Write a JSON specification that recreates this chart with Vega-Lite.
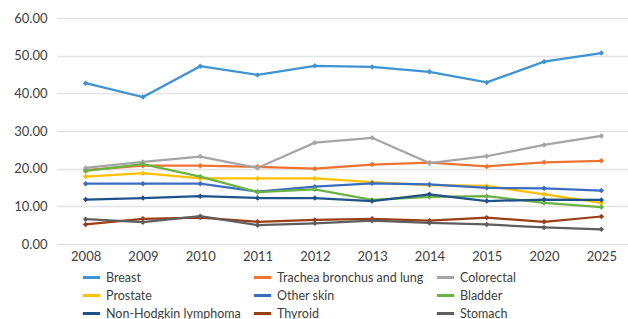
{
  "$schema": "https://vega.github.io/schema/vega-lite/v6.json",
  "autosize": {"type": "none"},
  "padding": {"left": 57, "top": 18, "right": 0, "bottom": 75},
  "width": 573,
  "height": 226,
  "background": "white",
  "config": {
    "font": "Lato",
    "view": {"stroke": null},
    "axis": {"labelColor": "#404040", "labelFontSize": 13, "domain": false, "ticks": false}
  },
  "data": {"values": [
    {"year":"2008","type":"Breast","rate":42.7},{"year":"2009","type":"Breast","rate":39.0},{"year":"2010","type":"Breast","rate":47.2},{"year":"2011","type":"Breast","rate":44.9},{"year":"2012","type":"Breast","rate":47.3},{"year":"2013","type":"Breast","rate":47.0},{"year":"2014","type":"Breast","rate":45.7},{"year":"2015","type":"Breast","rate":42.9},{"year":"2020","type":"Breast","rate":48.4},{"year":"2025","type":"Breast","rate":50.7},
    {"year":"2008","type":"Trachea bronchus and lung","rate":19.6},{"year":"2009","type":"Trachea bronchus and lung","rate":20.8},{"year":"2010","type":"Trachea bronchus and lung","rate":20.8},{"year":"2011","type":"Trachea bronchus and lung","rate":20.5},{"year":"2012","type":"Trachea bronchus and lung","rate":20.0},{"year":"2013","type":"Trachea bronchus and lung","rate":21.1},{"year":"2014","type":"Trachea bronchus and lung","rate":21.6},{"year":"2015","type":"Trachea bronchus and lung","rate":20.6},{"year":"2020","type":"Trachea bronchus and lung","rate":21.7},{"year":"2025","type":"Trachea bronchus and lung","rate":22.1},
    {"year":"2008","type":"Colorectal","rate":20.2},{"year":"2009","type":"Colorectal","rate":21.8},{"year":"2010","type":"Colorectal","rate":23.2},{"year":"2011","type":"Colorectal","rate":20.2},{"year":"2012","type":"Colorectal","rate":26.9},{"year":"2013","type":"Colorectal","rate":28.2},{"year":"2014","type":"Colorectal","rate":21.5},{"year":"2015","type":"Colorectal","rate":23.3},{"year":"2020","type":"Colorectal","rate":26.3},{"year":"2025","type":"Colorectal","rate":28.7},
    {"year":"2008","type":"Prostate","rate":17.9},{"year":"2009","type":"Prostate","rate":18.8},{"year":"2010","type":"Prostate","rate":17.4},{"year":"2011","type":"Prostate","rate":17.4},{"year":"2012","type":"Prostate","rate":17.4},{"year":"2013","type":"Prostate","rate":16.4},{"year":"2014","type":"Prostate","rate":15.6},{"year":"2015","type":"Prostate","rate":15.4},{"year":"2020","type":"Prostate","rate":13.2},{"year":"2025","type":"Prostate","rate":10.9},
    {"year":"2008","type":"Other skin","rate":16.0},{"year":"2009","type":"Other skin","rate":16.0},{"year":"2010","type":"Other skin","rate":16.0},{"year":"2011","type":"Other skin","rate":13.9},{"year":"2012","type":"Other skin","rate":15.2},{"year":"2013","type":"Other skin","rate":16.1},{"year":"2014","type":"Other skin","rate":15.8},{"year":"2015","type":"Other skin","rate":14.9},{"year":"2020","type":"Other skin","rate":14.8},{"year":"2025","type":"Other skin","rate":14.2},
    {"year":"2008","type":"Bladder","rate":19.4},{"year":"2009","type":"Bladder","rate":21.2},{"year":"2010","type":"Bladder","rate":17.9},{"year":"2011","type":"Bladder","rate":13.8},{"year":"2012","type":"Bladder","rate":14.5},{"year":"2013","type":"Bladder","rate":11.7},{"year":"2014","type":"Bladder","rate":12.5},{"year":"2015","type":"Bladder","rate":12.7},{"year":"2020","type":"Bladder","rate":10.9},{"year":"2025","type":"Bladder","rate":9.8},
    {"year":"2008","type":"Non-Hodgkin lymphoma","rate":11.8},{"year":"2009","type":"Non-Hodgkin lymphoma","rate":12.2},{"year":"2010","type":"Non-Hodgkin lymphoma","rate":12.7},{"year":"2011","type":"Non-Hodgkin lymphoma","rate":12.2},{"year":"2012","type":"Non-Hodgkin lymphoma","rate":12.2},{"year":"2013","type":"Non-Hodgkin lymphoma","rate":11.4},{"year":"2014","type":"Non-Hodgkin lymphoma","rate":13.2},{"year":"2015","type":"Non-Hodgkin lymphoma","rate":11.4},{"year":"2020","type":"Non-Hodgkin lymphoma","rate":11.8},{"year":"2025","type":"Non-Hodgkin lymphoma","rate":11.7},
    {"year":"2008","type":"Thyroid","rate":5.2},{"year":"2009","type":"Thyroid","rate":6.7},{"year":"2010","type":"Thyroid","rate":7.0},{"year":"2011","type":"Thyroid","rate":5.9},{"year":"2012","type":"Thyroid","rate":6.4},{"year":"2013","type":"Thyroid","rate":6.7},{"year":"2014","type":"Thyroid","rate":6.2},{"year":"2015","type":"Thyroid","rate":7.0},{"year":"2020","type":"Thyroid","rate":5.9},{"year":"2025","type":"Thyroid","rate":7.3},
    {"year":"2008","type":"Stomach","rate":6.6},{"year":"2009","type":"Stomach","rate":5.8},{"year":"2010","type":"Stomach","rate":7.4},{"year":"2011","type":"Stomach","rate":5.0},{"year":"2012","type":"Stomach","rate":5.5},{"year":"2013","type":"Stomach","rate":6.2},{"year":"2014","type":"Stomach","rate":5.6},{"year":"2015","type":"Stomach","rate":5.2},{"year":"2020","type":"Stomach","rate":4.4},{"year":"2025","type":"Stomach","rate":3.9}
  ]},
  "mark": {"type": "line", "strokeWidth": 2.25, "point": {"shape": "diamond", "size": 30, "filled": true}},
  "encoding": {
    "x": {"field": "year", "type": "ordinal", "title": null,
          "axis": {"labelAngle": 0, "labelPadding": 6, "grid": false}},
    "y": {"field": "rate", "type": "quantitative", "title": null,
          "scale": {"domain": [0, 60]},
          "axis": {"values": [0, 10, 20, 30, 40, 50, 60], "format": ".2f", "labelPadding": 10, "gridColor": "#E3E3E3", "gridWidth": 1.5}},
    "color": {"field": "type", "type": "nominal",
      "scale": {
        "domain": ["Breast", "Trachea bronchus and lung", "Colorectal", "Prostate", "Other skin", "Bladder", "Non-Hodgkin lymphoma", "Thyroid", "Stomach"],
        "range": ["#3F93D2", "#EE7330", "#A5A5A5", "#FFC000", "#3A6CC0", "#6AB243", "#1F5289", "#9A3E17", "#5E5E5E"]
      },
      "legend": {"title": null, "orient": "none", "legendX": 24, "legendY": 249, "direction": "horizontal", "columns": 3,
                 "columnPadding": 6, "rowPadding": 1, "labelFontSize": 12.5, "labelLimit": 0, "labelColor": "#404040", "padding": 0,
                 "symbolType": "stroke", "symbolSize": 300, "symbolStrokeWidth": 3, "labelOffset": 4}}
  }
}
